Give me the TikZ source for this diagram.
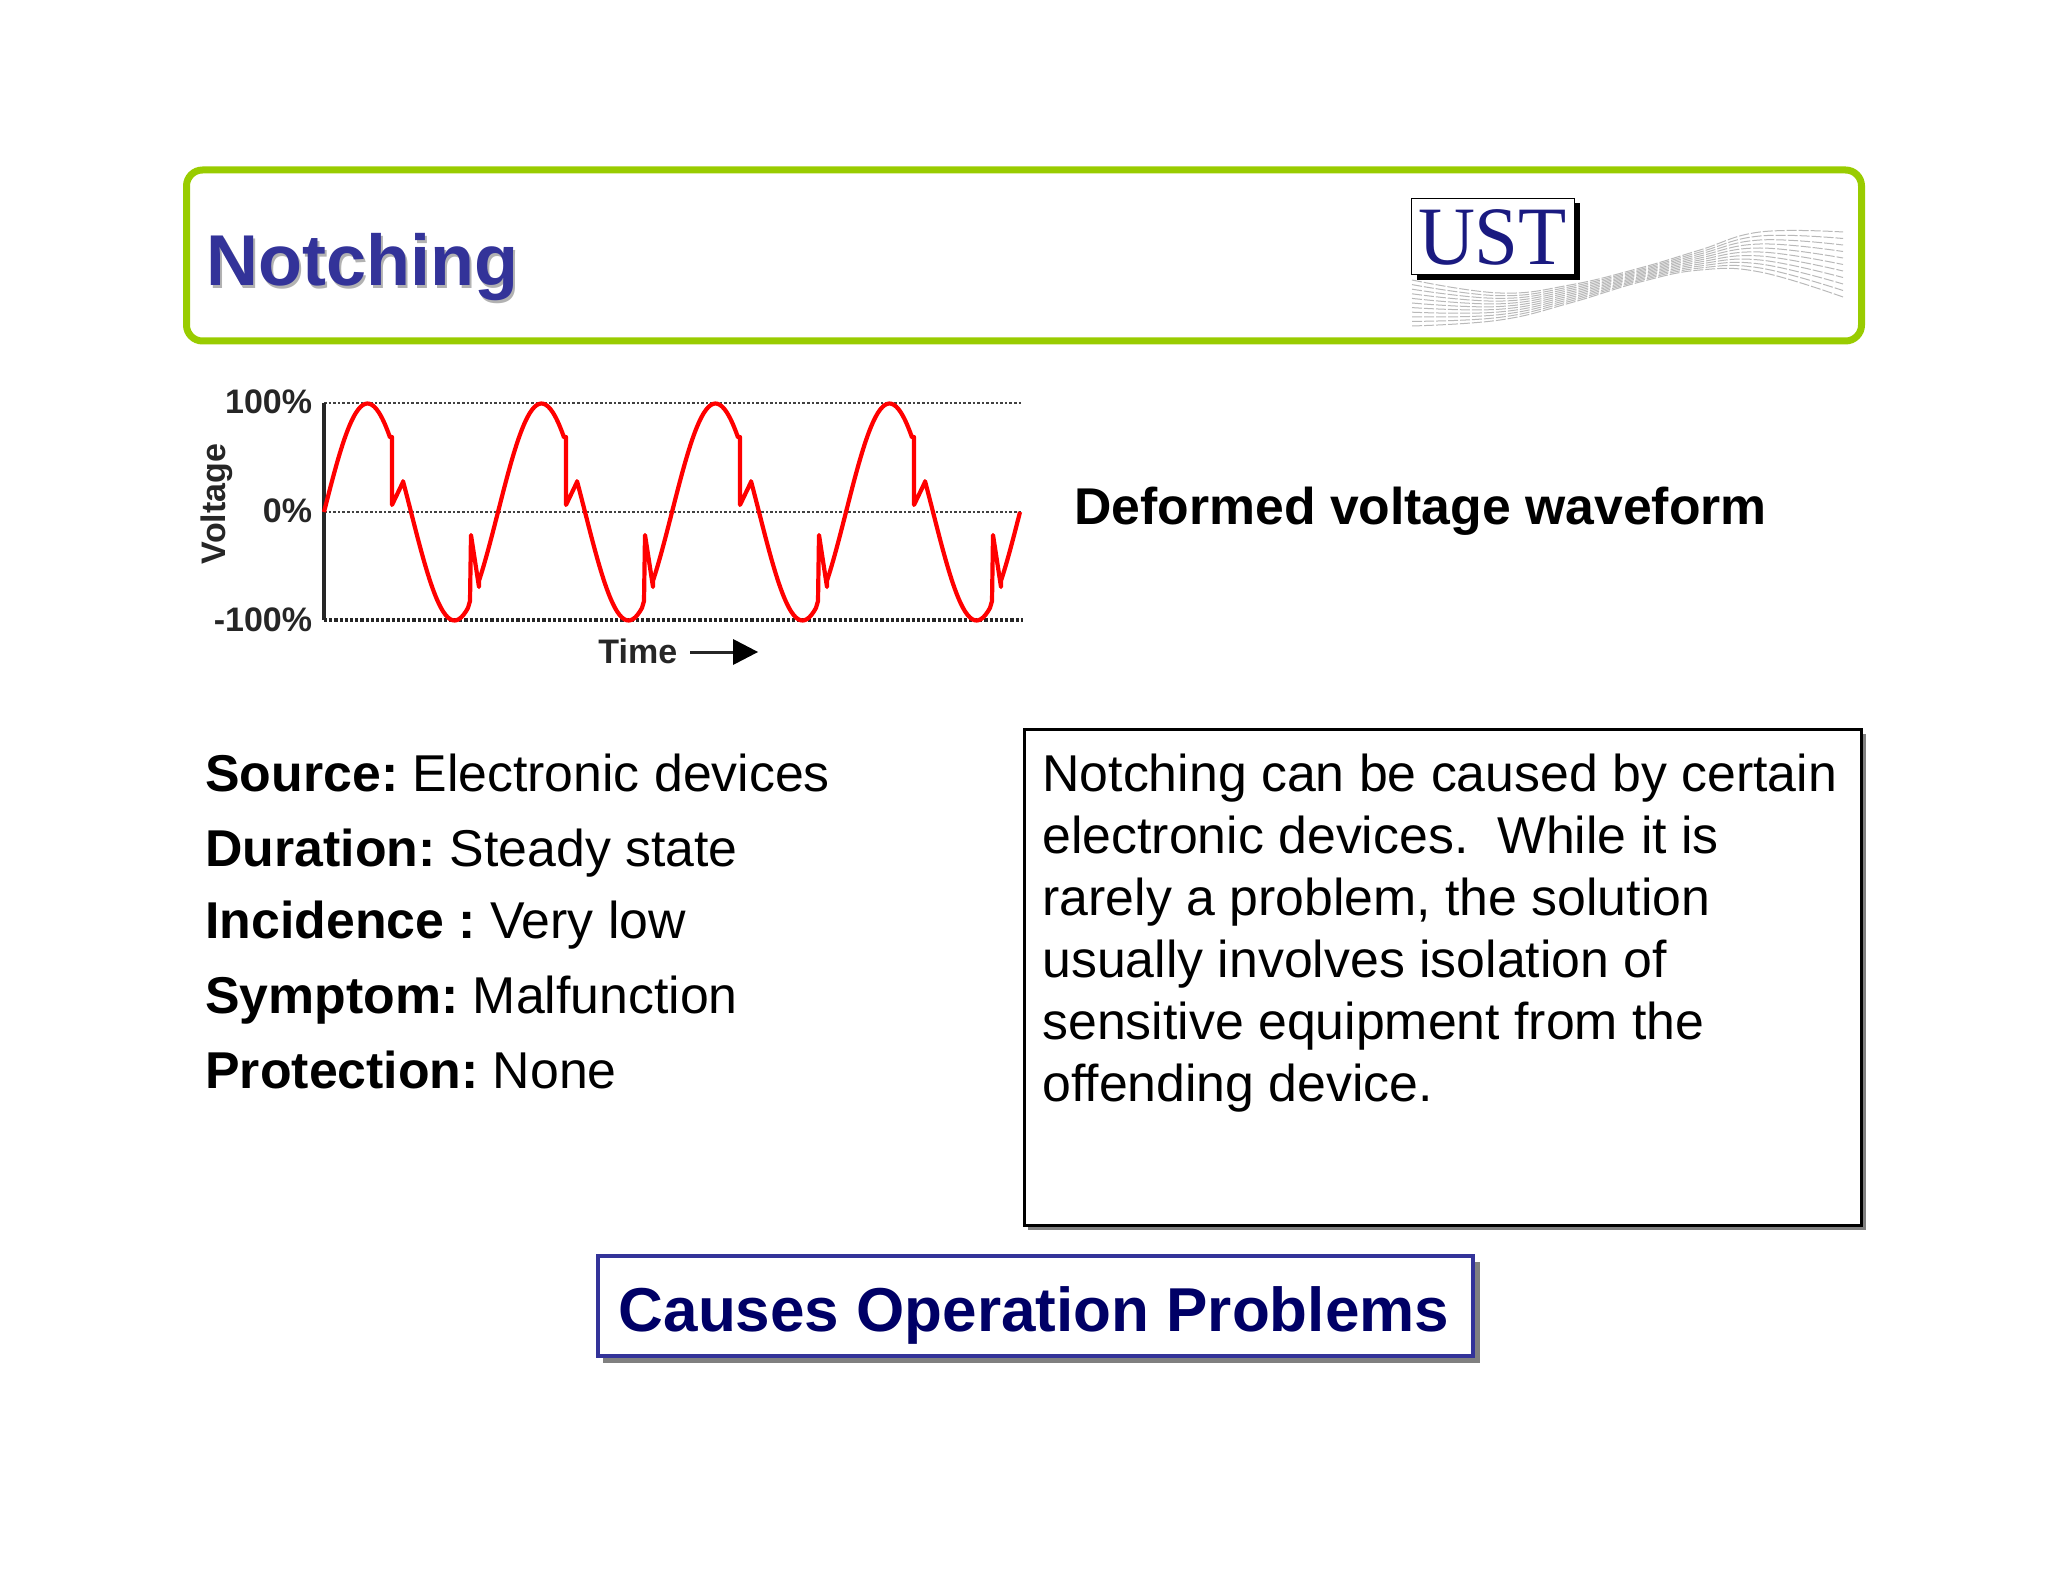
\documentclass[tikz,border=0pt]{standalone}
\usepackage{fontspec}
\setmainfont{Liberation Sans}
\newfontfamily\ustfont{Liberation Serif}
\definecolor{framegreen}{HTML}{99CC00}
\definecolor{titleblue}{HTML}{333399}
\definecolor{navy}{HTML}{000066}
\definecolor{ustblue}{HTML}{1A1A80}
\tikzset{
  bodytext/.style={anchor=base west,inner sep=0pt,font=\fontsize{25.9}{30}\selectfont},
  charttext/.style={inner sep=0pt,font=\fontsize{17}{19}\selectfont\bfseries,text=black!85},
  gridline/.style={black!75,line width=1.3pt,densely dotted},
  wave/.style={red,line width=2.1pt,line join=round},
  fan/.style={gray!55,line width=0.5pt,dash pattern=on 5pt off 1pt},
}
\newcommand{\lblgap}{\kern 7.1pt }
\begin{document}
\begin{tikzpicture}[x=0.5pt,y=-0.5pt]
\useasboundingbox (0,0) rectangle (2048,1582);
% header frame
\draw[framegreen,line width=3.5pt,rounded corners=8pt] (186.5,170) rectangle (1861.5,341);
\node[inner sep=0pt,anchor=base west,font=\fontsize{36}{40}\selectfont\bfseries,text=black!30] at (208,288.5) {Notching};
\node[inner sep=0pt,anchor=base west,font=\fontsize{36}{40}\selectfont\bfseries,text=titleblue] (title) at (206,286) {Notching};
% logo waves
\foreach \t in {0,0.1,...,1.01}{
  \draw[fan] plot[smooth,tension=0.7] coordinates {
    (1412,{280+46*\t}) (1500,{293+27*\t}) (1570,{285+18*\t}) (1640,{268+14*\t})
    (1700,{250+20*\t}) (1760,{232+40*\t}) (1843,{232+65*\t})};
}
% logo box
\fill[black] (1417,203) rectangle (1580,280);
\node[draw=black,line width=0.5pt,fill=white,minimum width=81.5pt,minimum height=38pt,inner sep=0pt,anchor=north west] (ust) at (1411,198) {};
\node[inner sep=0pt,anchor=base,font=\fontsize{41.5}{44}\ustfont,text=ustblue] at (1492.5,265) {\scalebox{0.95}[1]{UST}};
% chart
\coordinate (ytop) at (324,403); \coordinate (ytopr) at (1023,403);
\coordinate (ymid) at (324,512); \coordinate (ymidr) at (1023,512);
\coordinate (ybot) at (324,620); \coordinate (ybotr) at (1023,620);
\draw[gridline] (ytop) -- (ytopr);
\draw[gridline] (ymid) -- (ymidr);
\draw[black!85,line width=1.6pt,densely dotted] (ybot) -- (ybotr);
\draw[black!85,line width=1.8pt] (ytop) -- (ybot);
\foreach \o in {324,498,672,846}{
  \draw[wave] plot[domain=0:66,samples=30,smooth] ({\o+\x},{512-108.5*sin(\x*2.069)})
    -- ({\o+68},437) -- ({\o+68},505) -- ({\o+79},482)
    -- plot[domain=79:144,samples=30,smooth] ({\o+\x},{512-108.5*sin(\x*2.069)})
    -- ({\o+146},601) -- ({\o+147},535) -- ({\o+155},587)
    -- plot[domain=155:174,samples=10,smooth] ({\o+\x},{512-108.5*sin(\x*2.069)});
}
\node[charttext,anchor=base east] (l100) at (312.5,414) {100\%};
\node[charttext,anchor=base east] (l0) at (312.5,523) {0\%};
\node[charttext,anchor=base east] (lm100) at (312.5,631) {-100\%};
\node[charttext,rotate=90,anchor=base] (lv) at (225,504) {Voltage};
\node[charttext,anchor=base west] (ltime) at (598,663) {Time};
\coordinate (a1) at (690,652); \coordinate (a2) at (733,652);
\draw[black!85,line width=1.5pt] (a1) -- (a2);
\fill[black] (733,639) -- (758,652) -- (733,665) -- cycle;
% labels
\node[anchor=base west,inner sep=0pt,font=\fontsize{25.85}{29}\selectfont\bfseries] (def) at (1074,525) {Deformed voltage waveform};
\node[bodytext] (src) at (205,791) {\textbf{Source:}\lblgap Electronic devices};
\node[bodytext] (dur) at (205,866) {\textbf{Duration:}\lblgap Steady state};
\node[bodytext] (inc) at (205,938) {\textbf{Incidence :}\lblgap Very low};
\node[bodytext] (sym) at (205,1013) {\textbf{Symptom:}\lblgap Malfunction};
\node[bodytext] (pro) at (205,1088) {\textbf{Protection:}\lblgap None};
% text box
\fill[gray] (1028,734) rectangle (1866,1230);
\draw[black,fill=white,line width=1.5pt] (1024,729) rectangle (1861,1225);
\node[bodytext] at (1042,791) {Notching can be caused by certain};
\node[bodytext] at (1042,853) {electronic devices.\ \ While it is};
\node[bodytext] at (1042,915) {rarely a problem, the solution};
\node[bodytext] at (1042,977) {usually involves isolation of};
\node[bodytext] at (1042,1039) {sensitive equipment from the};
\node[bodytext] at (1042,1101) {offending device.};
% bottom box
\fill[gray] (603,1262) rectangle (1480,1363);
\draw[titleblue,fill=white,line width=2.2pt] (598,1256) rectangle (1473,1356);
\node[anchor=base,inner sep=0pt,font=\fontsize{31}{35}\selectfont\bfseries,text=navy] (cop) at (1034,1331) {Causes Operation Problems};
\end{tikzpicture}
\end{document}
